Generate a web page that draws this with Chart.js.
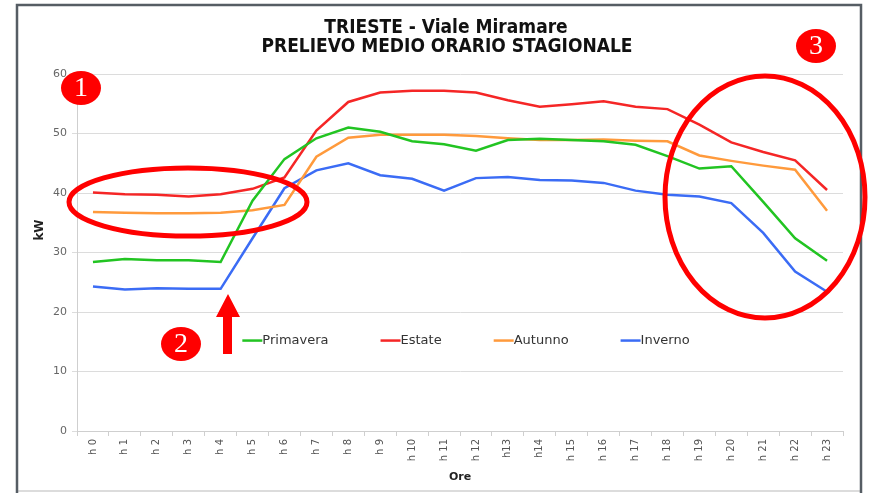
<!DOCTYPE html>
<html>
<head>
<meta charset="utf-8">
<script src="https://cdn.jsdelivr.net/npm/chart.js@4.4.1/dist/chart.umd.min.js"></script>
<style>
  body { margin: 0; background: #fff; }
  canvas { display: block; }
</style>
</head>
<body>
<canvas id="myChart" width="869" height="493"></canvas>
<script>
// hours of the day
var hours = ["h 0", "h 1", "h 2", "h 3", "h 4", "h 5", "h 6", "h 7", "h 8", "h 9", "h 10", "h 11",
  "h 12", "h13", "h14", "h 15", "h 16", "h 17", "h 18", "h 19", "h 20", "h 21", "h 22", "h 23"];

// kW per season
var primavera = [28.4, 28.9, 28.7, 28.7, 28.4, 38.7, 45.7, 49.2, 51.0, 50.3, 48.7, 48.2,
  47.1, 48.9, 49.1, 48.9, 48.7, 48.1, 46.2, 44.1, 44.5, 38.5, 32.4, 28.6];
var estate = [40.1, 39.8, 39.7, 39.4, 39.8, 40.7, 42.6, 50.5, 55.3, 56.9, 57.2, 57.2,
  56.9, 55.6, 54.5, 54.9, 55.4, 54.5, 54.1, 51.5, 48.5, 46.9, 45.5, 40.5];
var autunno = [36.8, 36.7, 36.6, 36.6, 36.7, 37.1, 38.0, 46.1, 49.3, 49.8, 49.8, 49.8,
  49.6, 49.2, 48.9, 48.9, 49.0, 48.8, 48.7, 46.3, 45.4, 44.6, 43.9, 37.0];
var inverno = [24.3, 23.8, 24.0, 23.9, 23.9, 32.4, 40.8, 43.8, 45.0, 43.0, 42.4, 40.4,
  42.5, 42.7, 42.2, 42.1, 41.7, 40.4, 39.7, 39.4, 38.3, 33.3, 26.8, 23.4];

var seasonNames = ["Primavera", "Estate", "Autunno", "Inverno"];
var seasonColors = ["#22c422", "#f52626", "#ff9a3c", "#3b6cf5"];

var yTicks = [0, 10, 20, 30, 40, 50, 60];
var titleLines = ["TRIESTE - Viale Miramare", "PRELIEVO MEDIO ORARIO STAGIONALE"];

var FONT = "'DejaVu Sans', Verdana, sans-serif";

// white page + screenshot frame + title
var framePlugin = {
  id: "frame",
  beforeDraw: function (chart) {
    var c = chart.ctx;
    c.save();
    c.fillStyle = "#fff";
    c.fillRect(0, 0, chart.width, chart.height);
    c.strokeStyle = "#d0d0d0";
    c.lineWidth = 1.5;
    c.beginPath();
    c.moveTo(17, 491);
    c.lineTo(861, 491);
    c.stroke();
    c.strokeStyle = "#565d64";
    c.lineWidth = 2.5;
    c.beginPath();
    c.moveTo(17, 493);
    c.lineTo(17, 5);
    c.lineTo(861, 5);
    c.lineTo(861, 493);
    c.stroke();

    c.fillStyle = "#111";
    c.font = "bold 19px 'DejaVu Sans Condensed', 'DejaVu Sans', sans-serif";
    c.textAlign = "center";
    c.textBaseline = "middle";
    c.fillText(titleLines[0], 446, 28);
    c.fillText(titleLines[1], 447, 47);
    c.restore();
  }
};

// legend inside the plot + kW label
var legendPlugin = {
  id: "innerLegend",
  afterDatasetsDraw: function (chart) {
    var c = chart.ctx;
    var area = chart.chartArea;
    c.save();
    c.font = "13px " + FONT;
    var gap = 52, lineLen = 20;
    var widths = chart.data.datasets.map(function (d) { return lineLen + c.measureText(d.label).width; });
    var total = widths.reduce(function (a, b) { return a + b; }, 0) + gap * (widths.length - 1);
    var x = (area.left + area.right) / 2 + 6 - total / 2;
    var y = chart.scales.y.getPixelForValue(15.2);
    chart.data.datasets.forEach(function (d, i) {
      c.strokeStyle = d.borderColor;
      c.lineWidth = 2.5;
      c.beginPath();
      c.moveTo(x, y);
      c.lineTo(x + lineLen, y);
      c.stroke();
      c.fillStyle = "#333";
      c.textAlign = "left";
      c.textBaseline = "middle";
      c.fillText(d.label, x + lineLen, y);
      x += widths[i] + gap;
    });
    // y axis title
    c.translate(40, 230);
    c.rotate(-Math.PI / 2);
    c.font = "bold 12px " + FONT;
    c.fillStyle = "#222";
    c.textAlign = "center";
    c.fillText("kW", 0, 0);
    c.restore();
  }
};

// red markings drawn over the chart
var markPlugin = {
  id: "marks",
  afterDraw: function (chart) {
    var c = chart.ctx;
    c.save();
    c.strokeStyle = "#ff0000";
    c.lineWidth = 5;
    c.beginPath();
    c.ellipse(188, 202, 119, 34, 0, 0, Math.PI * 2);
    c.stroke();
    c.beginPath();
    c.ellipse(765, 197, 100, 121, 0, 0, Math.PI * 2);
    c.stroke();

    // arrow
    c.fillStyle = "#ff0000";
    c.beginPath();
    c.moveTo(228, 294);
    c.lineTo(240, 317);
    c.lineTo(232, 317);
    c.lineTo(232, 354);
    c.lineTo(223, 354);
    c.lineTo(223, 317);
    c.lineTo(216, 317);
    c.closePath();
    c.fill();

    // numbered badges
    var badges = [["1", 81, 88], ["2", 181, 344], ["3", 816, 46]];
    badges.forEach(function (b) {
      c.fillStyle = "#ff0000";
      c.beginPath();
      c.ellipse(b[1], b[2], 20, 17, 0, 0, Math.PI * 2);
      c.fill();
      c.fillStyle = "#fff";
      c.font = "28px 'Liberation Serif', 'DejaVu Serif', serif";
      c.textAlign = "center";
      c.textBaseline = "middle";
      c.fillText(b[0], b[1], b[2] + 1);
    });
    c.restore();
  }
};

new Chart("myChart", {
  type: "line",
  data: {
    labels: hours,
    datasets: [primavera, estate, autunno, inverno].map(function (vals, i) {
      return {
        label: seasonNames[i],
        data: vals,
        borderColor: seasonColors[i],
        backgroundColor: seasonColors[i],
        borderWidth: 2.5,
        pointRadius: 0,
        tension: 0,
        fill: false
      };
    })
  },
  options: {
    responsive: false,
    animation: false,
    devicePixelRatio: 1,
    layout: { padding: { left: 0, right: 26, top: 74, bottom: 0 } },
    plugins: {
      legend: { display: false },
      tooltip: { enabled: false },
      title: { display: false }
    },
    scales: {
      x: {
        offset: true,
        grid: { display: true, offset: true, drawOnChartArea: false, color: "#cfcfcf", tickLength: 5 },
        border: { color: "#cfcfcf" },
        ticks: { minRotation: 90, maxRotation: 90, autoSkip: false, color: "#555", padding: 3,
          font: { family: FONT, size: 10 } },
        title: { display: true, text: "Ore", color: "#222",
          font: { family: FONT, size: 11, weight: "bold" }, padding: { top: 0, bottom: 9 } },
        afterFit: function (s) { s.height = 62; }
      },
      y: {
        min: 0,
        max: 60,
        afterBuildTicks: function (s) { s.ticks = yTicks.map(function (v) { return { value: v }; }); },
        grid: { color: "#dcdcdc", tickLength: 5 },
        border: { color: "#cfcfcf" },
        ticks: { color: "#666", padding: 5, font: { family: FONT, size: 11 } },
        afterFit: function (s) { s.width = 77; }
      }
    }
  },
  plugins: [framePlugin, legendPlugin, markPlugin]
});
</script>
</body>
</html>
